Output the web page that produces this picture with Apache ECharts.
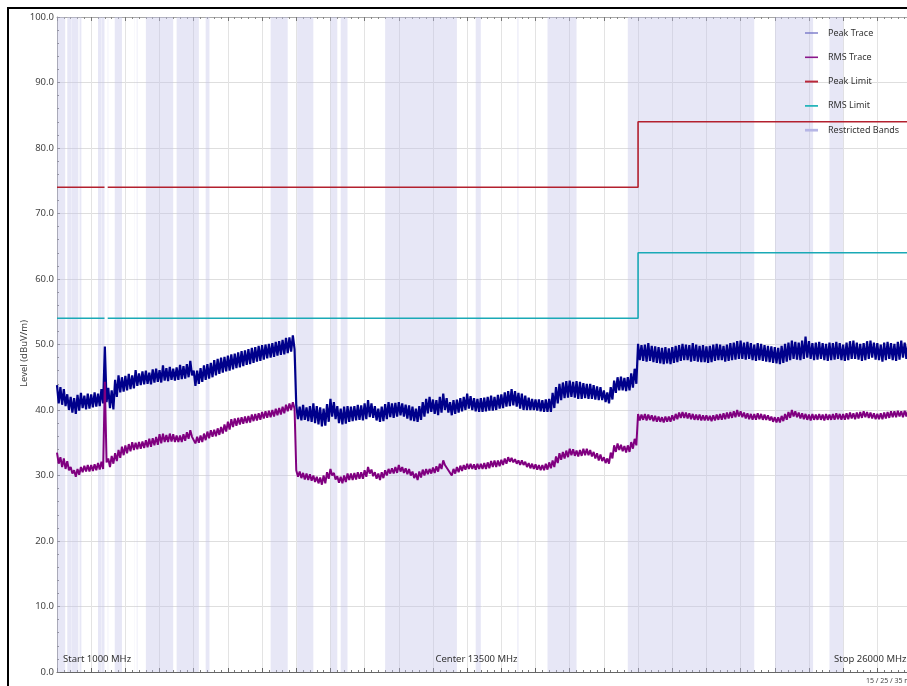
<!DOCTYPE html>
<html>
<head>
<meta charset="utf-8">
<script src="https://cdn.jsdelivr.net/npm/echarts@6/dist/echarts.min.js"></script>
<style>
  html, body { margin: 0; padding: 0; background: #ffffff; overflow: hidden; }
  #wrap { position: relative; width: 907px; height: 686px; overflow: hidden; }
  #chart { position: absolute; left: 0; top: 0; width: 907px; height: 686px; }
  #frame { position: absolute; left: 7px; top: 7px; width: 960px; height: 720px;
           border-left: 2.6px solid #000; border-top: 2.6px solid #000; pointer-events: none; }
</style>
</head>
<body>
<div id="wrap">
  <div id="chart"></div>
  <div id="frame"></div>
</div>
<script>
// Sweep: 1000 MHz to 26000 MHz, one max/min pair per 100 MHz bin (dBuV/m)
const SWEEP_START_MHZ = 1000;
const SWEEP_STEP_MHZ = 100;

const peakHi = [
  43.8, 43.5, 43.2, 42.4, 42.0, 41.8, 42.3, 42.6, 42.2, 42.5,
  42.4, 42.7, 42.5, 43.2, 49.7, 43.4, 43.0, 44.6, 45.3, 45.0,
  45.2, 45.5, 45.3, 46.1, 45.6, 45.9, 46.0, 45.7, 46.2, 46.3,
  46.1, 46.8, 46.4, 46.6, 46.3, 46.5, 46.9, 46.7, 47.0, 47.5,
  46.0, 46.0, 46.4, 46.8, 47.0, 47.2, 47.6, 47.8, 48.0, 48.1,
  48.3, 48.5, 48.6, 48.8, 49.0, 49.1, 49.3, 49.5, 49.6, 49.8,
  49.9, 50.0, 50.1, 50.2, 50.4, 50.5, 50.7, 51.0, 51.1, 51.4,
  40.7, 40.5, 40.8, 40.4, 40.6, 41.0, 40.6, 40.4, 40.2, 40.9,
  41.7, 41.2, 40.6, 40.2, 40.5, 40.6, 40.5, 40.6, 40.8, 40.7,
  41.0, 41.5, 41.0, 40.6, 40.2, 40.5, 40.9, 41.2, 41.0, 41.1,
  41.2, 41.0, 40.8, 40.7, 40.5, 40.2, 40.6, 41.2, 41.7, 42.0,
  41.6, 41.5, 42.0, 42.5, 41.8, 41.2, 41.5, 41.6, 41.8, 42.0,
  42.5, 42.1, 41.8, 41.7, 41.8, 41.9, 42.0, 42.2, 42.0, 42.3,
  42.4, 42.7, 42.9, 43.2, 42.9, 42.6, 42.5, 42.2, 41.9, 41.7,
  41.6, 41.6, 41.5, 41.6, 41.7, 42.6, 43.5, 44.0, 44.2, 44.4,
  44.5, 44.3, 44.4, 44.3, 44.1, 44.0, 44.0, 43.8, 43.6, 43.5,
  43.0, 42.7, 43.5, 44.5, 45.0, 45.1, 44.9, 45.0, 45.6, 46.3,
  50.1, 49.9, 50.0, 50.2, 49.8, 49.7, 49.6, 49.5, 49.6, 49.4,
  49.6, 49.8, 49.9, 50.1, 50.0, 49.9, 50.2, 50.0, 49.8, 49.9,
  49.7, 49.8, 50.0, 50.1, 50.0, 49.8, 50.0, 50.2, 50.3, 50.5,
  50.6, 50.3, 50.4, 50.2, 50.0, 50.2, 50.1, 49.9, 49.8, 49.7,
  49.6, 49.5, 49.8, 50.1, 50.3, 50.6, 50.4, 50.3, 50.6, 51.2,
  50.5, 50.2, 50.3, 50.4, 50.2, 50.1, 50.3, 50.2, 50.4, 50.2,
  50.0, 50.3, 50.5, 50.6, 50.3, 50.1, 50.2, 50.5, 50.6, 50.3,
  50.2, 50.0, 50.3, 50.4, 50.2, 50.1, 50.4, 50.6, 50.3, 50.2,
  50.4
];

const peakLo = [
  41.0, 40.8, 40.6, 40.0, 39.6, 39.4, 39.9, 40.3, 40.1, 40.2,
  40.4, 40.5, 40.6, 41.0, 41.2, 40.3, 40.1, 42.0, 42.7, 42.8,
  43.0, 43.2, 43.3, 43.7, 43.8, 43.9, 44.0, 43.9, 44.2, 44.3,
  44.2, 44.5, 44.4, 44.6, 44.5, 44.6, 44.7, 44.8, 45.0, 45.3,
  43.7, 44.0, 44.3, 44.6, 44.8, 45.0, 45.3, 45.5, 45.7, 45.9,
  46.0, 46.2, 46.4, 46.5, 46.7, 46.9, 47.0, 47.2, 47.4, 47.5,
  47.7, 47.9, 48.0, 48.1, 48.3, 48.4, 48.5, 48.7, 48.9, 49.3,
  38.6, 38.4, 38.5, 38.3, 38.2, 38.0, 37.8, 37.5, 37.6, 38.2,
  39.0, 38.6, 38.0, 37.8, 37.9, 38.2, 38.3, 38.4, 38.5, 38.4,
  38.6, 38.9, 38.8, 38.4, 38.2, 38.3, 38.6, 38.9, 38.8, 39.0,
  39.2, 39.0, 38.7, 38.4, 38.3, 38.2, 38.5, 39.0, 39.5, 39.7,
  39.4, 39.2, 39.6, 40.0, 39.6, 39.2, 39.4, 39.6, 39.8, 40.0,
  40.2, 40.0, 39.8, 39.7, 39.7, 39.8, 39.9, 39.9, 40.0, 40.2,
  40.3, 40.5, 40.6, 40.7, 40.5, 40.2, 40.0, 40.0, 40.0, 40.0,
  39.9, 39.8, 39.7, 39.7, 39.7, 40.3, 41.0, 41.5, 41.8, 41.9,
  42.0, 41.9, 41.7, 41.7, 41.8, 41.7, 41.7, 41.6, 41.5, 41.5,
  41.2, 41.0, 41.6, 42.6, 43.0, 43.0, 42.9, 43.0, 43.4, 44.0,
  47.6, 47.5, 47.4, 47.5, 47.3, 47.2, 47.1, 47.0, 47.1, 47.0,
  47.2, 47.3, 47.5, 47.6, 47.6, 47.4, 47.5, 47.4, 47.3, 47.3,
  47.2, 47.3, 47.5, 47.6, 47.6, 47.4, 47.5, 47.6, 47.7, 47.8,
  47.8, 47.7, 47.8, 47.6, 47.5, 47.6, 47.5, 47.4, 47.3, 47.2,
  47.1, 47.0, 47.2, 47.4, 47.6, 47.8, 47.7, 47.6, 47.8, 48.0,
  47.8, 47.6, 47.7, 47.8, 47.6, 47.5, 47.6, 47.7, 47.8, 47.6,
  47.5, 47.6, 47.8, 47.8, 47.7, 47.5, 47.6, 47.8, 48.0, 47.7,
  47.6, 47.4, 47.6, 47.8, 47.6, 47.5, 47.7, 48.0, 47.8, 47.6,
  47.7
];

const rmsHi = [
  33.5, 32.8, 32.6, 32.2, 31.3, 30.8, 31.0, 31.3, 31.5, 31.6,
  31.6, 31.7, 31.9, 32.1, 44.3, 32.6, 33.0, 33.4, 33.9, 34.4,
  34.6, 34.8, 35.1, 35.0, 35.1, 35.2, 35.4, 35.6, 35.7, 35.9,
  36.3, 36.4, 36.2, 36.4, 36.3, 36.1, 36.1, 36.3, 36.6, 36.9,
  35.9, 35.9, 36.1, 36.4, 36.7, 36.9, 37.0, 37.2, 37.4, 37.8,
  38.2, 38.6, 38.7, 38.8, 38.9, 39.0, 39.1, 39.3, 39.4, 39.5,
  39.7, 39.8, 39.9, 40.0, 40.2, 40.3, 40.5, 40.8, 41.0, 41.2,
  30.8, 30.6, 30.4, 30.3, 30.2, 30.0, 29.8, 29.7, 30.0, 30.5,
  31.0, 30.4, 29.9, 29.8, 30.0, 30.3, 30.3, 30.4, 30.5, 30.5,
  30.8, 31.3, 30.9, 30.5, 30.3, 30.5, 30.8, 31.0, 31.1, 31.3,
  31.6, 31.3, 31.1, 31.0, 30.6, 30.3, 30.6, 30.9, 31.0, 31.0,
  31.2, 31.4, 31.8, 32.3, 31.6, 30.8, 31.0, 31.3, 31.5, 31.6,
  31.8, 31.8, 31.7, 31.8, 31.8, 31.9, 32.0, 32.2, 32.3, 32.3,
  32.4, 32.6, 32.8, 32.7, 32.5, 32.3, 32.3, 32.1, 31.9, 31.8,
  31.7, 31.6, 31.6, 31.8, 32.0, 32.3, 32.9, 33.4, 33.6, 33.8,
  34.1, 34.0, 33.8, 33.9, 34.1, 34.1, 33.9, 33.6, 33.4, 33.2,
  32.8, 32.6, 33.5, 34.6, 34.9, 34.7, 34.5, 34.6, 35.1, 35.6,
  39.4, 39.3, 39.4, 39.3, 39.2, 39.1, 39.0, 38.9, 39.0, 39.0,
  39.2, 39.4, 39.6, 39.7, 39.6, 39.5, 39.4, 39.3, 39.3, 39.2,
  39.2, 39.1, 39.2, 39.3, 39.4, 39.5, 39.6, 39.7, 39.8, 40.0,
  39.8, 39.6, 39.5, 39.4, 39.4, 39.5, 39.4, 39.3, 39.2, 39.0,
  38.9, 38.9, 39.1, 39.4, 39.7, 40.0, 39.8, 39.6, 39.5, 39.4,
  39.3, 39.4, 39.3, 39.4, 39.3, 39.4, 39.3, 39.4, 39.5, 39.4,
  39.4, 39.5, 39.6, 39.5, 39.6, 39.7, 39.8, 39.7, 39.6, 39.5,
  39.4, 39.5, 39.6, 39.7, 39.8, 39.8, 39.9, 39.8, 39.9, 40.0,
  39.9
];

const rmsLo = [
  31.8, 31.3, 31.0, 30.8, 30.3, 29.8, 30.1, 30.5, 30.6, 30.6,
  30.7, 30.8, 30.9, 31.0, 32.0, 31.3, 31.8, 32.2, 32.7, 33.1,
  33.4, 33.7, 33.9, 34.0, 34.1, 34.2, 34.3, 34.4, 34.6, 34.7,
  34.9, 35.1, 35.1, 35.2, 35.1, 35.1, 35.1, 35.3, 35.6, 35.9,
  34.9, 35.0, 35.1, 35.4, 35.7, 35.9, 36.0, 36.2, 36.4, 36.7,
  37.0, 37.4, 37.6, 37.8, 37.9, 38.0, 38.1, 38.3, 38.4, 38.5,
  38.7, 38.8, 38.9, 39.0, 39.2, 39.3, 39.5, 39.8, 40.0, 40.2,
  29.8, 29.6, 29.4, 29.3, 29.2, 29.0, 28.8, 28.6, 28.8, 29.5,
  30.0, 29.4, 28.9, 28.8, 29.0, 29.3, 29.3, 29.4, 29.5, 29.5,
  29.8, 30.3, 29.9, 29.5, 29.3, 29.6, 30.0, 30.3, 30.3, 30.4,
  30.6, 30.4, 30.2, 30.0, 29.6, 29.3, 29.7, 30.0, 30.2, 30.3,
  30.4, 30.6, 31.0, 31.6, 30.8, 30.0, 30.3, 30.5, 30.7, 30.9,
  31.0, 31.0, 30.9, 31.0, 31.0, 31.0, 31.1, 31.3, 31.3, 31.4,
  31.6, 31.8, 32.1, 32.0, 31.8, 31.6, 31.6, 31.3, 31.1, 31.0,
  30.9, 30.8, 30.8, 30.9, 31.1, 31.3, 31.9, 32.4, 32.6, 32.8,
  33.1, 33.0, 32.9, 33.0, 33.1, 33.1, 32.9, 32.6, 32.3, 32.2,
  31.9, 31.8, 32.6, 33.6, 33.9, 33.7, 33.5, 33.6, 34.1, 34.6,
  38.4, 38.5, 38.4, 38.5, 38.3, 38.2, 38.2, 38.1, 38.2, 38.2,
  38.4, 38.6, 38.8, 38.8, 38.7, 38.6, 38.5, 38.5, 38.4, 38.4,
  38.4, 38.3, 38.4, 38.5, 38.5, 38.6, 38.7, 38.8, 38.9, 39.0,
  38.9, 38.7, 38.6, 38.5, 38.5, 38.6, 38.5, 38.5, 38.4, 38.2,
  38.1, 38.1, 38.3, 38.5, 38.8, 39.0, 38.9, 38.7, 38.6, 38.5,
  38.4, 38.5, 38.5, 38.5, 38.4, 38.5, 38.5, 38.5, 38.6, 38.5,
  38.5, 38.6, 38.7, 38.6, 38.7, 38.8, 38.9, 38.8, 38.7, 38.6,
  38.6, 38.6, 38.7, 38.8, 38.9, 38.9, 39.0, 38.9, 39.0, 39.1,
  39.0
];

// Limit lines (break across 2390 - 2483.5 MHz)
const limitFreqs = [1000, 2390, 2436, 2483.5, 18000, 18000, 26000];
const peakLimit  = [74, 74, null, 74, 74, 84, 84];
const rmsLimit   = [54, 54, null, 54, 54, 64, 64];

// Restricted bands, MHz
const restrictedBands = [
  [960, 1240], [1300, 1427], [1435, 1626.5], [1645.5, 1646.5], [1660, 1710],
  [1718.8, 1722.2], [2200, 2300], [2310, 2390], [2483.5, 2500], [2690, 2900],
  [3260, 3267], [3332, 3339], [3345.8, 3358], [3600, 4400], [4500, 5150],
  [5350, 5460], [7250, 7750], [8025, 8500], [9000, 9200], [9300, 9500],
  [10600, 12700], [13250, 13400], [14470, 14500], [15350, 16200],
  [17700, 21400], [22010, 23120], [23600, 24000]
];

const seriesNames = ['Peak Trace', 'RMS Trace', 'Peak Limit', 'RMS Limit', 'Restricted Bands'];
const yTicks = { min: 0, max: 100, step: 10 };
const xRange = { min: 1000, max: 26000, step: 1000 };

// Each bin is drawn as its max value followed by its min value
function binPairs(hi, lo) {
  const out = [];
  for (let i = 0; i < hi.length; i++) {
    const f = SWEEP_START_MHZ + i * SWEEP_STEP_MHZ;
    out.push([f, hi[i]]);
    out.push([f + SWEEP_STEP_MHZ / 2, lo[i]]);
  }
  return out;
}
const limitPairs = (vals) => limitFreqs.map((f, i) => [f, vals[i]]);

const FONT = '"Noto Sans", "DejaVu Sans", sans-serif';
const bandFill = 'rgba(196, 196, 232, 0.40)';

const chart = echarts.init(document.getElementById('chart'), null, { renderer: 'canvas' });

chart.setOption({
  animation: false,
  backgroundColor: '#ffffff',
  textStyle: { fontFamily: FONT },
  grid: { left: 57, top: 17, width: 854.5, height: 655, containLabel: false, outerBoundsMode: 'none' },
  legend: {
    orient: 'vertical',
    left: 805,
    top: 27,
    padding: 0,
    itemWidth: 13,
    itemHeight: 12,
    itemGap: 12.3,
    selectedMode: false,
    textStyle: { fontFamily: FONT, fontSize: 9, color: '#333', padding: [0, 0, 0, 5], lineHeight: 12 },
    itemStyle: { borderWidth: 0 },
    data: [
      { name: seriesNames[0], icon: 'path://M0,0H13V1.3H0Z', itemStyle: { color: '#6f6fc4', borderWidth: 0 } },
      { name: seriesNames[1], icon: 'path://M0,0H13V1.6H0Z', itemStyle: { color: '#8a168a', borderWidth: 0 } },
      { name: seriesNames[2], icon: 'path://M0,0H13V2H0Z', itemStyle: { color: '#b9283a', borderWidth: 0 } },
      { name: seriesNames[3], icon: 'path://M0,0H13V1.7H0Z', itemStyle: { color: '#1db3b8', borderWidth: 0 } },
      { name: seriesNames[4], icon: 'path://M0,0H13V2.7H0Z', itemStyle: { color: '#b6b6e6', borderWidth: 0 } }
    ]
  },
  xAxis: [
    {
      type: 'value', position: 'bottom',
      min: xRange.min, max: xRange.max, interval: xRange.step,
      axisLine: { show: true, lineStyle: { color: '#666', width: 1 } },
      axisTick: { show: true, inside: true, length: 4, lineStyle: { color: '#666' } },
      minorTick: { show: true, splitNumber: 5, length: 2, lineStyle: { color: '#777' } },
      axisLabel: { show: false },
      splitLine: { show: true, lineStyle: { color: '#e3e3e3', width: 1 } }
    },
    {
      type: 'value', position: 'top',
      min: xRange.min, max: xRange.max, interval: xRange.step,
      axisLine: { show: true, onZero: false, lineStyle: { color: '#a8a8a8', width: 1 } },
      axisTick: { show: true, inside: true, length: 4, lineStyle: { color: '#777' } },
      minorTick: { show: true, splitNumber: 5, length: 2, lineStyle: { color: '#888' } },
      axisLabel: { show: false },
      splitLine: { show: false }
    }
  ],
  yAxis: {
    type: 'value',
    min: yTicks.min, max: yTicks.max, interval: yTicks.step,
    name: 'Level (dBuV/m)',
    nameLocation: 'middle',
    nameGap: 28,
    nameMoveOverlap: false,
    nameTextStyle: { fontFamily: FONT, fontSize: 9.5, color: '#444', padding: [0, 18, 0, 0] },
    axisLine: { show: true, lineStyle: { color: '#9a9a9a' } },
    axisTick: { show: true, inside: true, length: 3, lineStyle: { color: '#777' } },
    minorTick: { show: true, splitNumber: 5, length: 2, lineStyle: { color: '#777' } },
    axisLabel: {
      fontFamily: FONT, fontSize: 9.5, color: '#444', margin: 3,
      formatter: (v) => v.toFixed(1)
    },
    splitLine: { show: true, lineStyle: { color: '#dedede', width: 1 } }
  },
  series: [
    {
      name: seriesNames[0], type: 'line', xAxisIndex: 0,
      data: binPairs(peakHi, peakLo),
      showSymbol: false, symbol: 'none', z: 3,
      itemStyle: { color: '#00008b' },
      lineStyle: { color: '#00008b', width: 2.2 }
    },
    {
      name: seriesNames[1], type: 'line', xAxisIndex: 0,
      data: binPairs(rmsHi, rmsLo),
      showSymbol: false, symbol: 'none', z: 3,
      itemStyle: { color: '#800080' },
      lineStyle: { color: '#800080', width: 2 }
    },
    {
      name: seriesNames[2], type: 'line', xAxisIndex: 0,
      data: limitPairs(peakLimit), connectNulls: false,
      showSymbol: false, symbol: 'none', z: 4,
      itemStyle: { color: '#b3202e' },
      lineStyle: { color: '#b3202e', width: 1.6 }
    },
    {
      name: seriesNames[3], type: 'line', xAxisIndex: 0,
      data: limitPairs(rmsLimit), connectNulls: false,
      showSymbol: false, symbol: 'none', z: 4,
      itemStyle: { color: '#1aa9b6' },
      lineStyle: { color: '#1aa9b6', width: 1.6 }
    },
    {
      name: seriesNames[4], type: 'custom', xAxisIndex: 0, z: 1,
      data: restrictedBands,
      encode: { x: [0, 1] },
      itemStyle: { color: bandFill },
      renderItem: (params, api) => {
        const topLeft = api.coord([api.value(0), yTicks.max]);
        const bottomRight = api.coord([api.value(1), yTicks.min]);
        const cs = params.coordSys;
        const shape = echarts.graphic.clipRectByRect(
          { x: topLeft[0], y: topLeft[1], width: bottomRight[0] - topLeft[0], height: bottomRight[1] - topLeft[1] },
          { x: cs.x, y: cs.y, width: cs.width, height: cs.height }
        );
        return shape && { type: 'rect', shape: shape, style: { fill: bandFill }, silent: true };
      }
    }
  ],
  graphic: [
    { type: 'text', silent: true, x: 63, y: 659, z: 100,
      style: { text: 'Start 1000 MHz', font: '9.5px ' + FONT, fill: '#333', align: 'left', verticalAlign: 'middle' } },
    { type: 'text', silent: true, x: 476.5, y: 659, z: 100,
      style: { text: 'Center 13500 MHz', font: '9.5px ' + FONT, fill: '#333', align: 'center', verticalAlign: 'middle' } },
    { type: 'text', silent: true, x: 906.5, y: 659, z: 100,
      style: { text: 'Stop 26000 MHz', font: '9.5px ' + FONT, fill: '#333', align: 'right', verticalAlign: 'middle' } },
    { type: 'text', silent: true, x: 866, y: 681, z: 100,
      style: { text: '15 / 25 / 35 m', font: '7px ' + FONT, fill: '#444', align: 'left', verticalAlign: 'middle' } }
  ]
});
</script>
</body>
</html>
